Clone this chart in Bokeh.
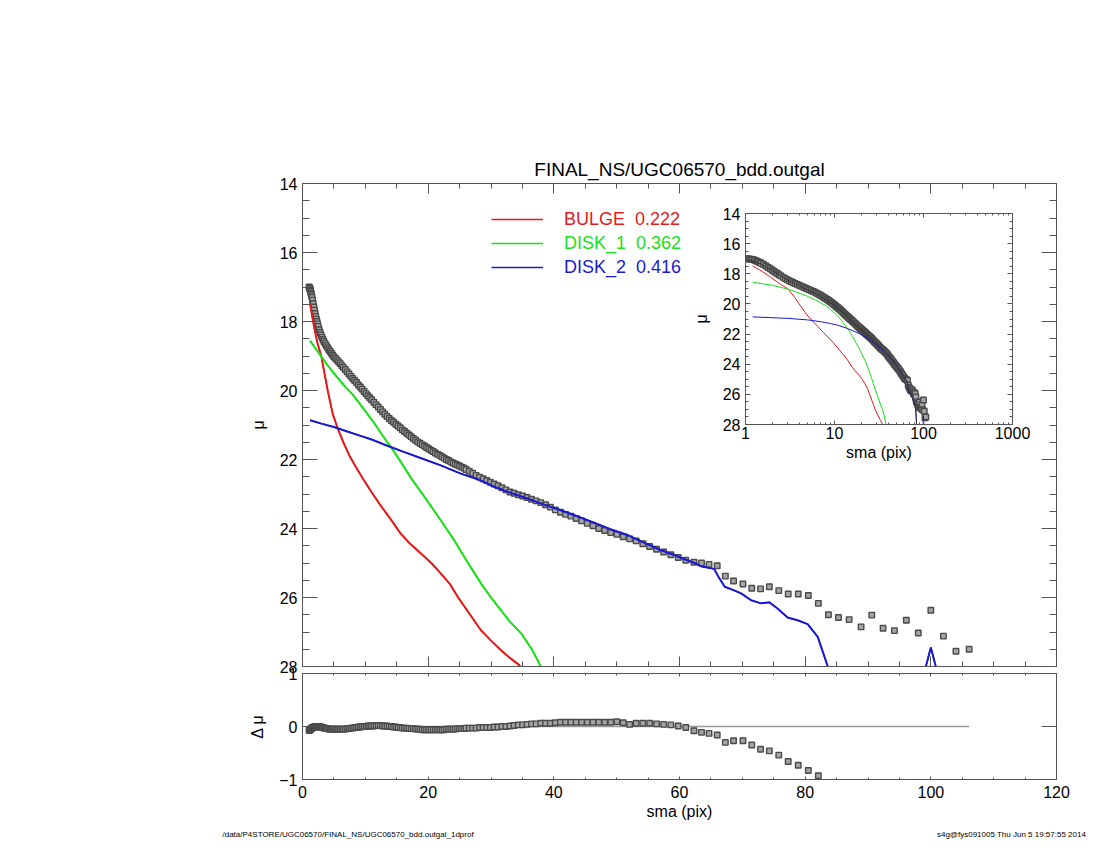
from bokeh.plotting import figure
from bokeh.models import (Range1d, LinearAxis, LogAxis, FixedTicker, BasicTickFormatter,
                          Legend, LegendItem, Label)
from bokeh.embed import file_html
from bokeh.resources import INLINE

# ---------------- texts ----------------
TITLE = "FINAL_NS/UGC06570_bdd.outgal"
FOOTER_LEFT = "/data/P4STORE/UGC06570/FINAL_NS/UGC06570_bdd.outgal_1dprof"
FOOTER_RIGHT = "s4g@fys091005  Thu Jun  5 19:57:55 2014"
X_LABEL = "sma (pix)"
Y_LABEL = "μ"
RES_LABEL = "Δ μ"

COMP_NAMES = ["BULGE", "DISK_1", "DISK_2"]
COMP_FRACS = ["0.222", "0.362", "0.416"]
COMP_COLORS = ["#e41a1c", "#19e019", "#1a1ad2"]

# ---------------- ticks ----------------
MAIN_XTICKS = [0, 20, 40, 60, 80, 100, 120]
MAIN_YTICKS = [14, 16, 18, 20, 22, 24, 26, 28]
RES_YTICKS = [-1, 0, 1]
INSET_XTICKS = [1, 10, 100, 1000]

# ---------------- observed profile (squares) ----------------
sma = [1.05, 1.1, 1.15, 1.2, 1.25, 1.3, 1.35, 1.4, 1.45, 1.5,
       1.6, 1.7, 1.8, 1.9, 2.0, 2.1, 2.2, 2.3, 2.4, 2.5,
       2.65, 2.8, 2.95, 3.1, 3.25, 3.4,
       3.6, 3.8, 4.0, 4.2, 4.4, 4.6, 4.8, 5.0,
       5.25, 5.5, 5.75, 6.0, 6.25, 6.5,
       6.8, 7.1, 7.4, 7.7, 8.0, 8.3, 8.6, 8.9, 9.2, 9.5, 9.8, 10.1, 10.4, 10.7,
       11.0, 11.35, 11.7, 12.05, 12.4, 12.75, 13.1, 13.45, 13.8, 14.15,
       14.5, 14.85, 15.2, 15.55, 15.9, 16.25, 16.6, 16.95, 17.3, 17.65,
       18.0, 18.35, 18.7, 19.05, 19.4, 19.75, 20.1, 20.45, 20.8, 21.15,
       21.5, 21.85, 22.2, 22.55, 22.9, 23.25, 23.6, 23.95, 24.3, 24.65,
       25.0, 25.35, 25.7,
       26.03, 26.55, 27.08, 27.63, 28.18, 28.74, 29.32, 29.9, 30.5, 31.11,
       31.73, 32.37, 33.01, 33.67, 34.35, 35.03, 35.73, 36.45, 37.18, 37.92,
       38.68, 39.45, 40.24, 41.05, 41.87, 42.71, 43.56, 44.43, 45.32, 46.23,
       47.15, 48.1, 49.06, 50.04, 51.04, 52.06, 53.1, 54.16, 55.25, 56.35,
       57.48, 58.63, 59.8,
       61.0, 62.3, 63.5, 64.7, 66.0, 67.3, 68.6, 70.1, 71.5, 72.9,
       74.3, 75.8, 77.3, 78.9, 80.5, 82.1, 83.7, 85.3, 87.0, 88.9,
       90.6, 92.4, 94.2, 96.1, 98.0, 100.0, 102.0, 104.0, 106.1]

mu = [17.00, 17.02, 17.04, 17.05, 17.09, 17.13, 17.17, 17.21, 17.25, 17.30,
      17.38, 17.48, 17.58, 17.67, 17.77, 17.85, 17.93, 18.00, 18.07, 18.14,
      18.24, 18.32, 18.39, 18.46, 18.52, 18.58,
      18.64, 18.70, 18.76, 18.82, 18.87, 18.92, 18.97, 19.02,
      19.07, 19.12, 19.17, 19.22, 19.28, 19.33,
      19.39, 19.46, 19.52, 19.59, 19.65, 19.71, 19.77, 19.84, 19.90, 19.96, 20.03, 20.09, 20.15, 20.21,
      20.27, 20.34, 20.41, 20.48, 20.55, 20.62, 20.69, 20.75, 20.81, 20.87,
      20.92, 20.98, 21.03, 21.08, 21.14, 21.19, 21.24, 21.29, 21.34, 21.39,
      21.44, 21.49, 21.53, 21.57, 21.61, 21.65, 21.69, 21.73, 21.77, 21.81,
      21.85, 21.88, 21.92, 21.96, 22.00, 22.03, 22.07, 22.10, 22.13, 22.16,
      22.19, 22.22, 22.25,
      22.29, 22.34, 22.40, 22.46, 22.51, 22.56, 22.61, 22.66, 22.71, 22.76,
      22.82, 22.88, 22.94, 22.98, 23.02, 23.06, 23.10, 23.15, 23.20, 23.25,
      23.31, 23.38, 23.46, 23.53, 23.59, 23.64, 23.71, 23.78, 23.85, 23.92,
      24.00, 24.06, 24.12, 24.17, 24.24, 24.30, 24.36, 24.44, 24.52, 24.60,
      24.68, 24.76, 24.84,
      24.92, 24.98, 25.00, 25.04, 25.08, 25.38, 25.52, 25.61, 25.73, 25.75,
      25.69, 25.80, 25.90, 25.90, 25.94, 26.17, 26.50, 26.58, 26.64, 26.85,
      26.51, 26.89, 26.96, 26.66, 27.03, 26.37, 27.12, 27.56, 27.50]

# residual (observed - model) at the same sma
dmu = [-0.07, -0.07, -0.06, -0.06, -0.05, -0.05, -0.04, -0.04, -0.03, -0.03,
       -0.02, -0.02, -0.01, -0.01, -0.01, 0.0, 0.0, 0.0, 0.0, 0.0,
       0.0, -0.01, -0.01, -0.02, -0.02, -0.03,
       -0.03, -0.04, -0.04, -0.05, -0.05, -0.05, -0.05, -0.05,
       -0.05, -0.05, -0.05, -0.05, -0.05, -0.05,
       -0.05, -0.04, -0.04, -0.03, -0.03, -0.02, -0.02, -0.01, -0.01, 0.0, 0.0, 0.0, 0.01, 0.01,
       0.01, 0.01, 0.02, 0.02, 0.02, 0.01, 0.01, 0.01, 0.0, 0.0,
       -0.01, -0.01, -0.02, -0.02, -0.03, -0.03, -0.03, -0.04, -0.04, -0.04,
       -0.05, -0.05, -0.05, -0.06, -0.06, -0.06, -0.06, -0.06, -0.06, -0.06,
       -0.06, -0.06, -0.06, -0.06, -0.05, -0.05, -0.05, -0.05, -0.05, -0.04,
       -0.04, -0.04, -0.04,
       -0.03, -0.03, -0.03, -0.03, -0.02, -0.02, -0.02, -0.02, -0.01, -0.01,
       0.0, 0.0, 0.01, 0.02, 0.03, 0.03, 0.04, 0.05, 0.05, 0.06,
       0.06, 0.06, 0.07, 0.08, 0.08, 0.08, 0.08, 0.08, 0.08, 0.08,
       0.08, 0.08, 0.08, 0.09, 0.07, 0.04, 0.06, 0.06, 0.06, 0.05,
       0.04, 0.03, 0.01,
       -0.02, -0.08, -0.11, -0.13, -0.16, -0.30, -0.27, -0.27, -0.35, -0.43,
       -0.46, -0.54, -0.66, -0.73, -0.83, -0.93, -1.5, -1.9, -2.3, -2.6,
       -2.8, -2.6, -2.5, -2.8, -2.2, -1.1, -2.3, -2.5, -2.6]

# ---------------- model components ----------------
bulge_sma = [1.2, 1.5, 1.85, 2.4, 3.0, 3.5, 4.0, 4.8, 5.6, 6.5, 7.5, 8.5, 9.6, 11.0, 12.5,
             14.0, 15.6, 17.0, 18.8, 20.5, 22.0, 23.5, 24.7, 26.5, 28.4, 30.0, 31.6, 33.0, 34.5, 36.0]
bulge_mu = [17.48, 17.80, 18.16, 18.64, 19.01, 19.50, 19.99, 20.67, 21.10, 21.50, 21.90, 22.22, 22.55, 22.95, 23.35,
            23.72, 24.14, 24.42, 24.72, 25.00, 25.30, 25.62, 25.98, 26.45, 26.95, 27.25, 27.53, 27.75, 27.96, 28.40]

disk1_sma = [1.2, 2.0, 3.0, 4.0, 5.0, 6.0, 7.0, 8.0, 9.0, 10.0, 11.5, 13.0, 14.5, 16.0, 17.5,
             19.6, 22.0, 24.0, 26.0, 28.4, 30.0, 31.6, 33.0, 34.8, 36.5, 38.5]
disk1_mu = [18.56, 18.76, 19.02, 19.27, 19.50, 19.72, 19.93, 20.12, 20.36, 20.60, 20.97, 21.37, 21.75, 22.17, 22.60,
            23.13, 23.76, 24.30, 24.90, 25.59, 26.00, 26.37, 26.70, 27.04, 27.50, 28.20]

disk2_sma = [1.2, 3.0, 5.0, 7.0, 9.0, 11.0, 13.5, 16.0, 19.0, 22.0, 25.2, 28.0, 30.5, 33.0, 35.8,
             38.0, 41.1, 43.5, 46.4, 49.0, 51.75, 54.0, 57.05, 59.2, 60.5, 62.4, 63.5, 65.5, 66.2, 67.2,
             68.5, 69.8, 71.4, 73.0, 74.3, 75.6, 77.2, 78.8, 80.4, 82.0, 83.6, 86.0, 90.0, 95.0, 98.5,
             100.0, 101.5, 104.0, 106.0]
disk2_mu = [20.86, 20.96, 21.06, 21.18, 21.30, 21.42, 21.60, 21.77, 21.97, 22.17, 22.41, 22.58, 22.79, 22.96, 23.13,
            23.28, 23.47, 23.63, 23.83, 24.02, 24.19, 24.38, 24.63, 24.77, 24.87, 25.00, 25.10, 25.17, 25.40, 25.69,
            25.78, 25.88, 26.08, 26.17, 26.14, 26.32, 26.58, 26.66, 26.77, 27.14, 28.00, 28.90, 29.50, 29.20, 28.50,
            27.45, 28.50, 29.30, 29.60]

# total model (shown in the inset)
model_sma = [1.05, 1.5, 2.0, 3.0, 4.0, 5.0, 7.0, 10.0, 13.0, 17.0, 20.0, 25.0, 30.0, 35.0, 40.0,
             45.0, 50.0, 55.0, 60.0, 62.4, 65.5, 67.2, 70.0, 73.0, 75.6, 78.8, 80.4, 82.0, 83.6, 85.0]
model_mu = [17.07, 17.35, 17.80, 18.44, 18.80, 19.07, 19.50, 20.10, 20.68, 21.35, 21.73, 22.22, 22.69, 23.03, 23.38,
            23.74, 24.08, 24.44, 24.82, 24.98, 25.13, 25.65, 25.86, 26.14, 26.30, 26.64, 26.75, 27.10, 27.95, 28.60]

# ---------------- style ----------------
W, H = 1084, 834
FONT = "Liberation Sans"
AX = "#555555"
MK_LINE = "#4a4a4a"
MK_FILL = "#a5a5a5"
MK_SIZE = 5.5
PLACE = {"position": "absolute", "left": "8px", "top": "8px"}


def make_fig(x_range, y_range, left, right, top, bottom, x_axis_type="linear"):
    p = figure(width=W, height=H, x_range=x_range, y_range=y_range, x_axis_type=x_axis_type,
               output_backend="svg", toolbar_location=None,
               min_border_left=left, min_border_right=right,
               min_border_top=top, min_border_bottom=bottom)
    p.border_fill_alpha = 0
    p.background_fill_alpha = 0
    p.outline_line_color = AX
    p.outline_line_width = 1
    p.xgrid.visible = False
    p.ygrid.visible = False
    p.styles = dict(PLACE)
    return p


def style_axis(ax, major_in, minor_in, labels, standoff=5):
    ax.major_tick_in = major_in
    ax.major_tick_out = 0
    ax.minor_tick_in = minor_in
    ax.minor_tick_out = 0
    ax.axis_line_color = AX
    ax.major_tick_line_color = AX
    ax.minor_tick_line_color = AX if minor_in > 0 else None
    ax.major_label_text_font = FONT
    ax.major_label_text_font_size = "16px"
    ax.major_label_text_color = "black" if labels else None
    ax.major_label_standoff = standoff
    ax.axis_label_text_font = FONT
    ax.axis_label_text_font_style = "normal"
    ax.axis_label_text_font_size = "16px"
    ax.axis_label_text_color = "black"


def minor_lin(ticks, n):
    out = []
    for a, b in zip(ticks[:-1], ticks[1:]):
        step = (b - a) / n
        out += [a + step * k for k in range(1, n)]
    return out


main_xticker = FixedTicker(ticks=MAIN_XTICKS, minor_ticks=minor_lin(MAIN_XTICKS, 4))
main_yticker = FixedTicker(ticks=MAIN_YTICKS, minor_ticks=minor_lin(MAIN_YTICKS, 4))

# ================= page layer: title and footer lines =================
pD = make_fig(Range1d(0, 1), Range1d(0, 1), 0, 0, 0, 0)
pD.axis.visible = False
pD.outline_line_color = None
pD.add_layout(Label(x=671, y=673, x_units="screen", y_units="screen", text=TITLE,
                    text_align="center", text_baseline="alphabetic",
                    text_font=FONT, text_font_size="19px", text_color="black"))
pD.add_layout(Label(x=214, y=8, x_units="screen", y_units="screen", text=FOOTER_LEFT,
                    text_align="left", text_baseline="alphabetic",
                    text_font=FONT, text_font_size="8px", text_color="black"))
pD.add_layout(Label(x=1082, y=8, x_units="screen", y_units="screen", text=FOOTER_RIGHT,
                    text_align="right", text_baseline="alphabetic",
                    text_font=FONT, text_font_size="8px", text_color="black"))

# ================= main panel =================
pA = make_fig(Range1d(0, 120), Range1d(28, 14), 294, 36, 175, 176)
pA.xaxis.ticker = main_xticker
pA.yaxis.ticker = main_yticker
style_axis(pA.xaxis[0], 10, 5, False)
style_axis(pA.yaxis[0], 15, 7, True)
pA.yaxis[0].axis_label = Y_LABEL
pA.yaxis[0].axis_label_standoff = 10
topA = LinearAxis(ticker=main_xticker)
style_axis(topA, 10, 5, False)
pA.add_layout(topA, "above")
rightA = LinearAxis(ticker=main_yticker)
style_axis(rightA, 15, 7, False)
pA.add_layout(rightA, "right")

pA.scatter(sma, mu, marker="square", size=MK_SIZE, line_color=MK_LINE, fill_color=MK_FILL, line_width=1.4)
comp_data = [(bulge_sma, bulge_mu), (disk1_sma, disk1_mu), (disk2_sma, disk2_mu)]
legend_keys = []
for (xs, ys), c in zip(comp_data, COMP_COLORS):
    legend_keys.append(pA.line(xs, ys, line_color=c, line_width=1.3))   # thin copy used as legend key
    pA.line(xs, ys, line_color=c, line_width=2)

for i, (name, frac, c, key) in enumerate(zip(COMP_NAMES, COMP_FRACS, COMP_COLORS, legend_keys)):
    lg = Legend(items=[LegendItem(label=f"{name}  {frac}", renderers=[key])],
                location=(189, 432 - 24 * i), orientation="vertical",
                glyph_width=52, glyph_height=30, label_height=20, label_standoff=21,
                padding=0, margin=0, spacing=0,
                border_line_color=None, background_fill_alpha=0,
                label_text_font=FONT, label_text_font_size="18px", label_text_color=c,
                label_text_baseline="alphabetic")
    pA.add_layout(lg)

# ================= residual panel =================
pB = make_fig(Range1d(0, 120), Range1d(-1, 1), 294, 36, 665, 63)
res_yticker = FixedTicker(ticks=RES_YTICKS, minor_ticks=[])
pB.xaxis.ticker = main_xticker
pB.yaxis.ticker = res_yticker
style_axis(pB.xaxis[0], 3, 2, True, standoff=6)
pB.xaxis[0].axis_label = X_LABEL
pB.xaxis[0].axis_label_standoff = 2
style_axis(pB.yaxis[0], 15, 0, True)
pB.yaxis[0].axis_label = RES_LABEL
pB.yaxis[0].axis_label_standoff = 10
topB = LinearAxis(ticker=main_xticker)
style_axis(topB, 3, 2, False)
pB.add_layout(topB, "above")
rightB = LinearAxis(ticker=res_yticker)
style_axis(rightB, 15, 0, False)
pB.add_layout(rightB, "right")

pB.line([sma[0], sma[-1]], [0, 0], line_color="#9a9a9a", line_width=1.5)
pB.scatter(sma, dmu, marker="square", size=MK_SIZE, line_color=MK_LINE, fill_color=MK_FILL, line_width=1.4)

# ================= inset (log sma) =================
pC = make_fig(Range1d(1, 1000), Range1d(28, 14), 737, 80, 205, 418, x_axis_type="log")
pC.background_fill_color = "white"
pC.background_fill_alpha = 1
inset_minor = [m * d for d in INSET_XTICKS[:-1] for m in range(2, 10)]
inset_xticker = FixedTicker(ticks=INSET_XTICKS, minor_ticks=inset_minor)
pC.xaxis.ticker = inset_xticker
pC.xaxis.formatter = BasicTickFormatter()
pC.yaxis.ticker = main_yticker
style_axis(pC.xaxis[0], 4, 2, True, standoff=2)
pC.xaxis[0].axis_label = X_LABEL
pC.xaxis[0].axis_label_standoff = 2
style_axis(pC.yaxis[0], 5, 3, True)
pC.yaxis[0].axis_label = Y_LABEL
pC.yaxis[0].axis_label_standoff = 10
topC = LogAxis(ticker=inset_xticker)
style_axis(topC, 4, 2, False)
pC.add_layout(topC, "above")
rightC = LinearAxis(ticker=main_yticker)
style_axis(rightC, 5, 3, False)
pC.add_layout(rightC, "right")

pC.scatter(sma, mu, marker="square", size=MK_SIZE, line_color=MK_LINE, fill_color=MK_FILL, line_width=1.4)
for (xs, ys), c in zip(comp_data, COMP_COLORS):
    pC.line(xs, ys, line_color=c, line_width=1)
pC.line(model_sma, model_mu, line_color="#333333", line_width=1)

# independent page roots stacked at the same spot (no frame alignment between them)
open("out.html", "w").write(file_html([pD, pA, pB, pC], INLINE))
